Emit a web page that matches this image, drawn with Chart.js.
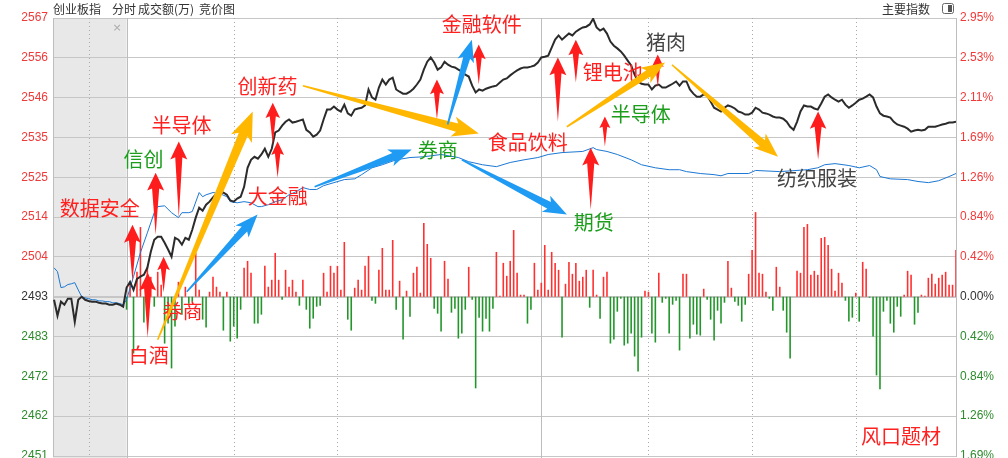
<!DOCTYPE html>
<html lang="zh-CN">
<head>
<meta charset="utf-8">
<title>创业板指 分时</title>
<script src="https://cdn.jsdelivr.net/npm/chart.js"></script>
<style>
html,body{margin:0;padding:0;background:#fff;}
#wrap{width:1008px;height:458px;position:relative;}
canvas{display:block;}
</style>
</head>
<body>
<div id="wrap"><canvas id="c" width="1008" height="458"></canvas></div>
<script>
// ---------- data ----------
const prevClose = 2493.4;
const gridStep = 10.47;
const leftTickLabels = ['2567','2556','2546','2535','2525','2514','2504','2493','2483','2472','2462','2451'];
const rightTickLabels = ['2.95%','2.53%','2.11%','1.69%','1.26%','0.84%','0.42%','0.00%','0.42%','0.84%','1.26%','1.69%'];

// call-auction section (grey zone)
const auctionPrice = [2492.6,2488.4,2492.1,2491.3,2492.9,2492.9,2486.8,2492.6,2493.4,2492.6,2492.3,2492.1,2492.1,2491.8,2491.6,2491.6,2491.3,2491.3,2491.6,2491.3,2490.8];
const auctionAvg = [2501.0,2500.0,2495.8,2496.0,2496.6,2496.8,2497.1,2495.2,2493.4,2493.1,2492.9,2492.6,2492.6,2492.3,2492.3,2492.1,2492.1,2491.8,2491.8,2491.6,2491.3];

// minute index price (0 = 9:30 ... 240 = 15:00)
const minutePrice = [
2495.8,2497.3,2495.2,2498.1,2498.7,2499.2,2501.0,2505.2,2508.4,2509.2,
2509.2,2507.6,2505.8,2503.9,2508.9,2508.4,2507.1,2508.9,2508.4,2511.0,
2514.2,2516.8,2516.0,2517.6,2518.4,2519.5,2520.5,2520.5,2520.8,2520.2,
2518.7,2518.4,2519.2,2519.7,2522.3,2527.3,2529.4,2530.2,2529.7,2530.8,
2532.3,2530.2,2532.3,2536.6,2537.1,2538.4,2539.4,2540.0,2539.2,2539.4,
2539.7,2540.0,2537.3,2536.6,2535.5,2536.0,2537.1,2540.0,2542.6,2542.6,
2543.4,2542.6,2542.1,2543.9,2541.6,2541.0,2542.6,2542.9,2543.1,2543.7,
2547.9,2545.8,2545.2,2548.4,2550.5,2549.2,2550.5,2551.0,2547.9,2547.3,
2546.8,2546.8,2547.3,2548.1,2549.2,2550.5,2553.1,2555.2,2556.3,2555.0,
2553.1,2553.7,2555.2,2554.4,2553.9,2553.7,2553.1,2552.6,2551.8,2551.3,
2548.9,2547.1,2547.9,2547.6,2548.1,2548.4,2548.7,2548.9,2549.7,2550.5,
2550.8,2551.6,2552.3,2552.9,2553.4,2553.7,2553.7,2553.9,2554.2,2555.0,
2556.3,2556.5,2556.8,2558.9,2561.0,2562.1,2561.0,2561.8,2562.6,2562.1,
2563.1,2563.7,2564.2,2564.4,2565.0,2566.5,2564.2,2563.4,2563.9,2562.6,
2560.5,2559.4,2558.7,2557.9,2556.8,2555.5,2554.2,2551.8,2550.0,2549.4,
2549.2,2549.2,2547.9,2548.9,2549.2,2548.4,2548.4,2548.9,2549.4,2550.0,
2548.9,2550.0,2550.0,2547.9,2546.8,2546.0,2546.0,2546.6,2546.3,2544.7,
2543.1,2542.6,2542.1,2543.1,2543.7,2543.4,2542.9,2542.1,2541.8,2541.3,
2541.3,2541.8,2543.1,2542.6,2541.8,2541.6,2541.3,2540.8,2540.5,2540.5,
2540.2,2539.4,2538.1,2537.3,2539.4,2542.1,2543.7,2543.4,2543.4,2542.9,
2542.6,2544.2,2546.0,2546.6,2545.8,2545.2,2544.7,2545.2,2543.9,2543.1,
2543.7,2544.4,2545.2,2545.5,2546.0,2546.6,2545.8,2543.4,2541.6,2541.0,
2540.8,2540.5,2539.4,2538.7,2538.4,2538.1,2537.6,2536.8,2537.1,2537.3,
2537.1,2537.3,2538.1,2538.1,2538.1,2538.4,2538.7,2538.9,2539.2,2539.2,2539.4];

// average price line
const avgMinute = [0,2,4,6,8,9,11,13,15,16,18,19,21,22,23,25,27,29,30,32,34,36,38,39,41,43,45,47,49,51,53,55,57,60,63,66,68,71,74,78,82,86,91,96,99,103,107,111,115,119,122,126,132,135,136,139,142,146,149,153,157,160,162,166,170,172,174,180,182,189,197,200,202,205,209,212,215,217,218,221,226,229,232,235,238,240];
const avgPrice = [2492.6,2498.7,2505.0,2510.2,2515.5,2517.1,2517.3,2515.5,2514.2,2515.5,2515.5,2515.8,2520.8,2519.7,2520.2,2520.8,2520.5,2519.7,2518.4,2518.1,2518.4,2518.1,2517.1,2517.1,2517.6,2518.4,2518.9,2520.2,2521.0,2522.1,2521.6,2521.6,2522.6,2523.4,2524.2,2524.4,2525.5,2527.3,2528.1,2529.4,2530.0,2530.2,2530.8,2530.0,2528.9,2528.1,2527.6,2528.7,2529.4,2530.0,2530.8,2531.3,2531.6,2532.6,2532.1,2531.6,2530.8,2529.4,2528.1,2527.3,2526.8,2526.8,2526.3,2525.8,2525.5,2525.2,2525.8,2525.8,2526.6,2526.3,2526.8,2527.3,2528.1,2528.4,2527.9,2527.3,2527.9,2526.8,2525.0,2524.4,2524.2,2523.7,2523.4,2523.9,2525.0,2525.8];

// per-minute turnover (亿元); sign = direction (+ up minute / - down minute)
const minuteTurnover = [
-1.3,1.5,-5.7,2.5,7.0,-2.6,3.0,2.0,-1.0,2.5,
1.2,-4.7,-2.7,-7.2,-3.0,1.5,-1.8,1.0,-0.7,-0.5,
4.4,0.7,-2.3,-3.1,0.5,2.0,1.0,0.5,-3.4,0.5,
-4.5,-3.0,-4.2,-1.3,2.9,3.6,2.4,-2.7,-2.7,-1.8,
3.1,1.0,1.7,4.4,1.7,-0.3,2.7,1.0,1.7,0.5,
-0.9,1.7,-1.3,-3.2,-2.2,-1.0,-0.9,2.4,0.5,3.1,
2.4,3.1,0.7,5.5,-2.3,-3.4,0.9,1.7,0.7,3.1,
4.1,-0.4,-0.7,2.7,4.9,0.7,0.7,5.7,-1.3,1.6,
-4.3,0.6,-2.0,2.4,3.0,0.4,7.4,5.3,3.9,-1.2,
-1.7,-3.5,3.6,1.8,-1.6,-1.2,-4.2,-3.7,-1.3,3.0,
-0.3,-9.2,-2.1,-3.5,-2.2,-3.5,-1.2,4.5,0.1,3.4,
2.1,3.6,6.7,2.4,0.2,0.2,-2.7,-1.3,3.4,0.7,
1.4,5.2,0.7,4.5,3.4,2.7,-4.1,1.3,3.5,2.3,
3.4,1.6,2.0,2.7,-1.1,2.7,0.2,-2.2,2.0,2.5,
-4.7,-4.3,-1.5,-0.2,-4.9,-4.7,-3.7,-6.0,-7.5,-4.1,
0.6,0.5,-3.7,-4.6,2.4,-0.6,-0.2,-3.7,-0.8,-0.4,
-5.4,2.3,2.3,-4.2,-2.8,-3.8,-3.9,0.8,-0.3,-2.3,
-4.4,-1.4,-2.7,-0.6,3.6,0.9,-0.5,-0.9,-2.5,-0.8,
2.3,4.7,8.5,2.4,2.3,0.5,-0.2,-1.4,3.0,1.0,
-1.4,-3.6,-6.2,0.0,2.6,2.4,7.0,7.3,2.2,2.6,
2.2,5.9,6.0,5.2,2.8,0.6,2.4,1.4,-0.4,-2.5,
-2.1,0.4,-2.5,3.5,2.8,-0.1,-4.0,-7.9,-9.3,-1.5,
-0.4,-2.7,-3.6,-1.0,-2.0,0.2,2.6,2.2,-2.8,-1.6,
0.2,0.1,1.9,2.3,1.3,1.9,2.2,2.5,1.2,1.2,4.7];
const turnoverPerGrid = 4;

// time grid (minute index)
const solidTimeLines = [0, 120];
const dottedTimeLines = [-11, 31, 61, 151, 181, 211];

// annotations (minute, index level)
const tagText = ['数据安全','信创','半导体','创新药','大金融','券商','白酒','金融软件','券商','食品饮料','锂电池','半导体','猪肉','期货','纺织服装','风口题材'];
const tagMinute = [-7.8,4.9,15.9,40.8,43.7,16.2,6.4,102.8,90.0,116.1,140.7,148.8,156.1,135.2,199.8,224.1];
const tagLevel = [2516.6,2529.4,2538.4,2548.7,2519.7,2489.5,2478.1,2565.0,2531.8,2533.9,2552.3,2541.3,2560.2,2512.9,2524.4,2456.6];
const tagTone = ['hot','cool','hot','hot','hot','hot','hot','hot','cool','hot','hot','cool','plain','cool','plain','hot'];

const upArrowMinute = [1.7,6.1,8.4,15.1,10.7,42.3,43.7,89.8,101.9,124.8,130.0,138.4,134.3,153.7,200.1];
const upArrowTop = [2512.3,2499.7,2526.0,2534.2,2503.9,2544.4,2534.2,2550.5,2559.7,2556.3,2561.0,2540.8,2532.6,2557.1,2542.1];
const upArrowBottom = [2497.3,2482.6,2509.7,2514.2,2494.5,2533.4,2524.7,2540.0,2549.2,2539.4,2549.7,2532.9,2516.3,2548.4,2529.4];

const flowFromMinute = [9.0,51.0,127.4,157.8,17.4,54.4,92.9,97.0];
const flowFromLevel = [2482.1,2548.9,2538.1,2554.4,2494.7,2522.3,2538.7,2529.4];
const flowToMinute = [36.5,101.9,155.8,188.5,37.9,82.5,99.9,127.4];
const flowToLevel = [2542.1,2536.3,2555.0,2530.2,2515.0,2532.1,2561.0,2515.0];
const flowKind = ['gold','gold','gold','gold','blue','blue','blue','blue'];

// ---------- styles ----------
const toneColor = {up:'#f03a3a', flat:'#333333', down:'#2e8b2e'};
const tagColor = {hot:'#ff2020', cool:'#1c9e1c', plain:'#444444'};
const flowColor = {gold:'#ffb700', blue:'#1f9bf3'};
const CJK = '"Noto Sans CJK SC", "Noto Sans", sans-serif';

// ---------- build ----------
const priceData = auctionPrice.map((v,i)=>({x:i-auctionPrice.length, y:v}))
  .concat(minutePrice.map((v,i)=>({x:i, y:v})));
const avgData = auctionAvg.map((v,i)=>({x:i-auctionAvg.length, y:v}))
  .concat(avgMinute.map((m,i)=>({x:m, y:avgPrice[i]})));
const volData = minuteTurnover.map((v,i)=>({x:i, y:v}));

const yMin = prevClose - 4*gridStep, yMax = prevClose + 7*gridStep;
function buildTicks(labels){
  return labels.map((lab,i)=>({value: prevClose + (7-i)*gridStep, lab: lab,
    tone: i<7 ? 'up' : (i===7 ? 'flat' : 'down')})).reverse();
}

function drawUpArrow(ctx, x, yT, yB){
  const len = yB - yT;
  const hw = Math.max(8, Math.min(17, len*0.3 + 2));
  const hh = hw*1.05, sw = hw*0.42;
  ctx.beginPath();
  ctx.moveTo(x, yT);
  ctx.lineTo(x + hw/2, yT + hh);
  ctx.lineTo(x + sw/2, yT + hh*0.88);
  ctx.lineTo(x, yB);
  ctx.lineTo(x - sw/2, yT + hh*0.88);
  ctx.lineTo(x - hw/2, yT + hh);
  ctx.closePath();
  ctx.fill();
}
function drawFlow(ctx, x0, y0, x1, y1){
  const dx = x1-x0, dy = y1-y0, L = Math.hypot(dx,dy);
  const ux = dx/L, uy = dy/L, nx = -uy, ny = ux;
  const hw = 14 + L*0.035, hl = hw*1.1, sw = hw*0.42;
  const bx = x1 - ux*hl, by = y1 - uy*hl;
  const cx = bx - ux*hl*0.18, cy = by - uy*hl*0.18;
  ctx.beginPath();
  ctx.moveTo(x0 + nx*0.8, y0 + ny*0.8);
  ctx.lineTo(bx + nx*sw/2, by + ny*sw/2);
  ctx.lineTo(cx + nx*hw/2, cy + ny*hw/2);
  ctx.lineTo(x1, y1);
  ctx.lineTo(cx - nx*hw/2, cy - ny*hw/2);
  ctx.lineTo(bx - nx*sw/2, by - ny*sw/2);
  ctx.lineTo(x0 - nx*0.8, y0 - ny*0.8);
  ctx.closePath();
  ctx.fill();
}

const decor = {
  id: 'decor',
  beforeDraw(chart){
    const {ctx, chartArea:a, scales:{x}} = chart;
    ctx.save();
    ctx.fillStyle = '#ffffff';
    ctx.fillRect(0, 0, chart.width, chart.height);
    const xa = x.getPixelForValue(x.min), xb = x.getPixelForValue(0);
    ctx.fillStyle = '#e8e8e8';
    ctx.fillRect(xa, a.top, xb - xa, chart.height - a.top);
    ctx.restore();
  },
  beforeDatasetsDraw(chart){
    const {ctx, chartArea:a, scales:{x}} = chart;
    ctx.save();
    ctx.lineWidth = 1;
    ctx.strokeStyle = '#bdbdbd';
    solidTimeLines.forEach(t=>{
      const px = Math.round(x.getPixelForValue(t)) + 0.5;
      ctx.beginPath(); ctx.moveTo(px, a.top); ctx.lineTo(px, chart.height); ctx.stroke();
    });
    ctx.setLineDash([1,3]);
    ctx.strokeStyle = '#aaaaaa';
    dottedTimeLines.forEach(t=>{
      const px = Math.round(x.getPixelForValue(t)) + 0.5;
      ctx.beginPath(); ctx.moveTo(px, a.top); ctx.lineTo(px, chart.height); ctx.stroke();
    });
    ctx.restore();
  },
  afterDatasetsDraw(chart){
    const {ctx, scales:{x, y}} = chart;
    ctx.save();
    // labels
    ctx.textAlign = 'center';
    ctx.textBaseline = 'middle';
    ctx.font = '20px ' + CJK;
    tagText.forEach((t,i)=>{
      ctx.fillStyle = tagColor[tagTone[i]];
      ctx.fillText(t, x.getPixelForValue(tagMinute[i]), y.getPixelForValue(tagLevel[i]));
    });
    // red up arrows
    ctx.fillStyle = '#ff1c1c';
    upArrowMinute.forEach((m,i)=>{
      drawUpArrow(ctx, x.getPixelForValue(m), y.getPixelForValue(upArrowTop[i]), y.getPixelForValue(upArrowBottom[i]));
    });
    // flow arrows
    flowKind.forEach((k,i)=>{
      ctx.fillStyle = flowColor[k];
      drawFlow(ctx, x.getPixelForValue(flowFromMinute[i]), y.getPixelForValue(flowFromLevel[i]),
                    x.getPixelForValue(flowToMinute[i]), y.getPixelForValue(flowToLevel[i]));
    });
    ctx.restore();
  },
  afterDraw(chart){
    const {ctx} = chart;
    ctx.save();
    ctx.textBaseline = 'middle';
    ctx.textAlign = 'left';
    ctx.fillStyle = '#333333';
    ctx.font = '12px ' + CJK;
    ctx.fillText('创业板指', 53, 9);
    ctx.fillText('分时', 112, 9);
    ctx.fillText('成交额(万)', 138, 9);
    ctx.fillText('竞价图', 199, 9);
    ctx.fillText('主要指数', 882, 9);
    // small panel icon
    ctx.strokeStyle = '#666'; ctx.lineWidth = 1;
    ctx.beginPath();
    if (ctx.roundRect) ctx.roundRect(942.5, 3.5, 11, 10, 2); else ctx.rect(942.5, 3.5, 11, 10);
    ctx.stroke();
    ctx.fillStyle = '#555';
    ctx.fillRect(948, 5, 4, 7);
    // close mark in auction zone
    ctx.fillStyle = '#aaaaaa';
    ctx.font = '11px "DejaVu Sans", sans-serif';
    ctx.textAlign = 'center';
    ctx.fillText('×', 117, 28);
    ctx.restore();
  }
};

new Chart(document.getElementById('c'), {
  type: 'line',
  data: {
    datasets: [
      {label:'创业板指', data: priceData, borderColor:'#2b2b2b', borderWidth:2, pointRadius:0, tension:0, yAxisID:'y', order:0},
      {label:'均价', data: avgData, borderColor:'#1c78d4', borderWidth:1, pointRadius:0, tension:0, yAxisID:'y', order:1},
      {type:'bar', label:'成交额', data: volData, yAxisID:'yV', order:2, barThickness:1.6, inflateAmount:0, borderWidth:0,
       backgroundColor: volData.map(d=> d.y >= 0 ? '#ff3030' : '#22962a')}
    ]
  },
  options: {
    responsive: false,
    animation: false,
    events: [],
    layout: {padding: {top:18, bottom:2, left:0, right:0}},
    plugins: {legend:{display:false}, tooltip:{enabled:false}},
    scales: {
      x: {type:'linear', min:-21.3, max:240, display:false, offset:false, grid:{offset:false}},
      y: {
        position:'left', min:yMin, max:yMax,
        afterBuildTicks: s => { s.ticks = buildTicks(leftTickLabels); },
        afterFit: s => { s.width = 53; s.paddingTop = 0; s.paddingBottom = 0; },
        ticks: {
          autoSkip:false, padding:5,
          font:{family:'"Liberation Sans", Arial, sans-serif', size:12},
          color: c => toneColor[c.tick.tone],
          callback: (v, i, ticks) => ticks[i].lab
        },
        grid: {drawTicks:false, color:'#c6c6c6', lineWidth: c => (c.tick && c.tick.tone === 'flat') ? 2 : 1},
        border: {color:'#bdbdbd'}
      },
      yR: {
        position:'right', min:yMin, max:yMax,
        afterBuildTicks: s => { s.ticks = buildTicks(rightTickLabels); },
        afterFit: s => { s.width = 52; s.paddingTop = 0; s.paddingBottom = 0; },
        ticks: {
          autoSkip:false, padding:4,
          font:{family:'"Liberation Sans", Arial, sans-serif', size:12},
          color: c => toneColor[c.tick.tone],
          callback: (v, i, ticks) => ticks[i].lab
        },
        grid: {display:false, drawTicks:false},
        border: {color:'#bdbdbd'}
      },
      yV: {display:false, min:-4*turnoverPerGrid, max:7*turnoverPerGrid}
    }
  },
  plugins: [decor]
});
</script>
</body>
</html>
